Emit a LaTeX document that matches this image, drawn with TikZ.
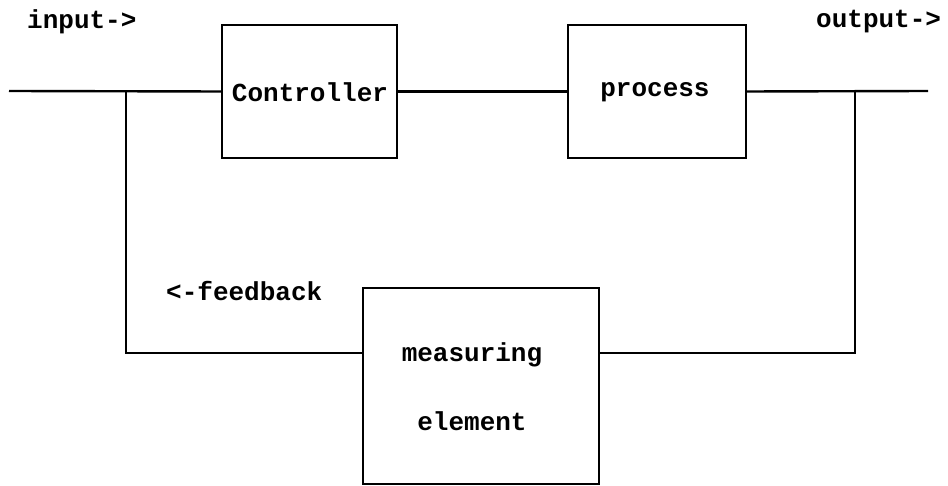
\documentclass[tikz,border=0pt]{standalone}
\usepackage{fontspec}
\newfontfamily\diagfont{Liberation Mono}[BoldFont={Liberation Mono Bold}]
\begin{document}
\begin{tikzpicture}[x=1pt,y=-1pt,
  wire/.style={line width=2.4pt},
  blockbox/.style={draw,line width=2.4pt,inner sep=0pt},
  lbl/.style={font=\diagfont\bfseries\fontsize{26}{30}\selectfont,inner sep=0pt}]
\useasboundingbox (0,0) rectangle (948,486);
\node[blockbox,minimum width=175pt,minimum height=133pt] (ctrl) at (309.5,91.5) {};
\node[blockbox,minimum width=178pt,minimum height=133pt] (proc) at (657,91.5) {};
\node[blockbox,minimum width=236pt,minimum height=196pt] (meas) at (481,386) {};
\node[lbl] (ctrltxt) at (310,92) {Controller};
\node[lbl] (proctxt) at (655,92) {process};
\node[lbl] (m1) at (472,355) {measuring};
\node[lbl] (m2) at (472,421) {element};
\node[lbl,anchor=west] (inlbl) at (27,22) {input->};
\node[lbl,anchor=west] (outlbl) at (816,22) {output->};
\node[lbl,anchor=west] (fblbl) at (166,291) {<-feedback};
\coordinate (in) at (9,91);
\coordinate (out) at (928,91);
\coordinate (jl) at (126,91);
\coordinate (jr) at (855,91);
\coordinate (ml) at (363,353);
\coordinate (mr) at (599,353);
\draw[wire] (in) -- (ctrl.west);
\draw[wire] (ctrl.east) -- (proc.west);
\draw[wire] (proc.east) -- (out);
\draw[wire] (jl) |- (ml);
\draw[wire] (jr) |- (mr);
\end{tikzpicture}
\end{document}
